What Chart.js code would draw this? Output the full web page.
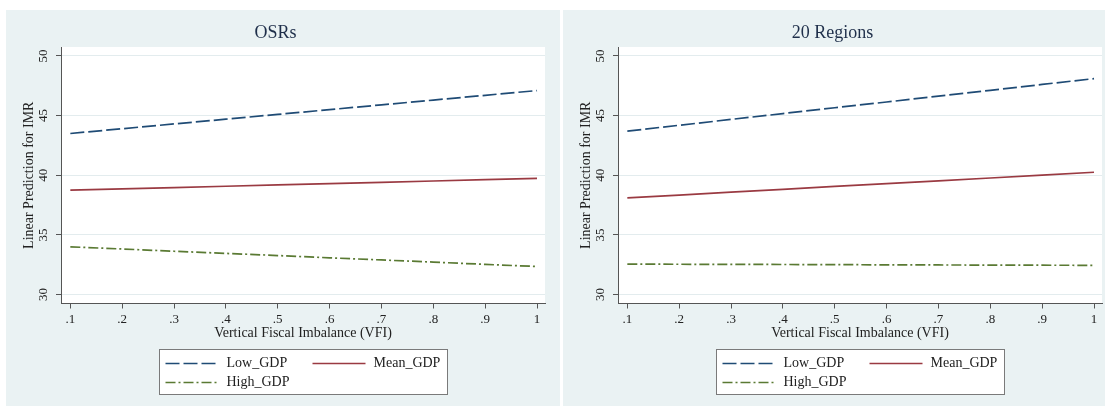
<!doctype html>
<html>

<head>
    <title>VFI margins</title>
    <script src="https://cdn.jsdelivr.net/npm/chart.js"></script>
    <style>
        body {
            margin: 0;
            background-color: white;
            width: 1105px;
            height: 406px;
            overflow: hidden;
            position: relative;
        }

        .panel {
            position: absolute;
            top: 10px;
            width: 554px;
            height: 396px;
            background-color: #eaf2f3;
        }
    </style>
</head>

<body>
    <div class="panel" style="left: 6px"><canvas id="chart-0" width="554" height="396"></canvas></div>
    <div class="panel" style="left: 563px"><canvas id="chart-1" width="554" height="396"></canvas></div>
    <script>
        const vfi = [0.1, 0.2, 0.3, 0.4, 0.5, 0.6, 0.7, 0.8, 0.9, 1]
        const xTicks = [0.1, 0.2, 0.3, 0.4, 0.5, 0.6, 0.7, 0.8, 0.9, 1]
        const xTickLabels = ['.1', '.2', '.3', '.4', '.5', '.6', '.7', '.8', '.9', '1']
        const yTicks = [30, 35, 40, 45, 50]

        const seriesNames = ['Low_GDP', 'Mean_GDP', 'High_GDP']
        const panelTitles = ['OSRs', '20 Regions']

        const osrLow = [43.5, 43.9, 44.3, 44.7, 45.1, 45.5, 45.9, 46.3, 46.7, 47.1]
        const osrMean = [38.75, 38.86, 38.97, 39.08, 39.19, 39.3, 39.41, 39.52, 39.63, 39.74]
        const osrHigh = [34.0, 33.82, 33.63, 33.45, 33.27, 33.08, 32.9, 32.72, 32.53, 32.35]

        const regLow = [43.7, 44.19, 44.68, 45.17, 45.66, 46.14, 46.63, 47.12, 47.61, 48.1]
        const regMean = [38.1, 38.34, 38.58, 38.82, 39.06, 39.29, 39.53, 39.77, 40.01, 40.25]
        const regHigh = [32.55, 32.54, 32.53, 32.52, 32.51, 32.49, 32.48, 32.47, 32.46, 32.45]

        const panels = [
            [osrLow, osrMean, osrHigh],
            [regLow, regMean, regHigh],
        ]

        const colors = ['#1f4b75', '#9a3a42', '#5a7a33']
        const dashes = [[14, 4], [], [10, 3, 2, 3]]

        Chart.defaults.font.family = "'Liberation Serif', 'Times New Roman', serif"
        Chart.defaults.color = '#222'

        // white plot region like Stata's plotregion
        const plotBackground = {
            id: 'plotBackground',
            beforeDraw(chart) {
                const { ctx, chartArea: a } = chart
                ctx.save()
                ctx.fillStyle = 'white'
                ctx.fillRect(a.left, a.top, a.right - a.left, a.bottom - a.top)
                ctx.restore()
            }
        }

        // vertical y tick labels (Stata draws them rotated)
        const yLabels = {
            id: 'yLabels',
            afterDraw(chart) {
                const { ctx } = chart
                const scale = chart.scales.y
                ctx.save()
                ctx.font = "13px 'Liberation Serif', serif"
                ctx.fillStyle = '#222'
                ctx.textAlign = 'center'
                ctx.textBaseline = 'middle'
                yTicks.forEach(v => {
                    const y = scale.getPixelForValue(v)
                    ctx.save()
                    ctx.translate(scale.right - 17, y)
                    ctx.rotate(-Math.PI / 2)
                    ctx.fillText(String(v), 0, 0)
                    ctx.restore()
                })
                ctx.restore()
            }
        }

        // boxed legend, two columns
        const boxLegend = {
            id: 'boxLegend',
            afterDraw(chart) {
                const { ctx, chartArea: a } = chart
                const w = 288, h = 45
                const left = Math.round((a.left + a.right) / 2 - w / 2) + 0.5
                const top = 339.5
                ctx.save()
                ctx.fillStyle = 'white'
                ctx.fillRect(left, top, w, h)
                ctx.strokeStyle = '#7a7a7a'
                ctx.lineWidth = 1
                ctx.strokeRect(left, top, w, h)
                ctx.font = "14px 'Liberation Serif', serif"
                ctx.textBaseline = 'middle'
                ctx.textAlign = 'left'
                chart.data.datasets.forEach((ds, i) => {
                    const col = i % 2
                    const row = Math.floor(i / 2)
                    const x = left + 6 + col * 147
                    const y = top + 14 + row * 19
                    ctx.strokeStyle = ds.borderColor
                    ctx.lineWidth = 1.5
                    ctx.setLineDash(ds.borderDash)
                    ctx.beginPath()
                    ctx.moveTo(x, y)
                    ctx.lineTo(x + 53, y)
                    ctx.stroke()
                    ctx.setLineDash([])
                    ctx.fillStyle = '#222'
                    ctx.fillText(ds.label, x + 61, y)
                })
                ctx.restore()
            }
        }

        panels.forEach((series, idx) => {
            new Chart(document.getElementById(`chart-${idx}`), {
                type: 'line',
                data: {
                    datasets: series.map((values, s) => ({
                        label: seriesNames[s],
                        data: values.map((v, k) => ({ x: vfi[k], y: v })),
                        borderColor: colors[s],
                        borderDash: dashes[s],
                        borderWidth: 1.7,
                        pointRadius: 0,
                        fill: false,
                    }))
                },
                options: {
                    responsive: false,
                    animation: false,
                    devicePixelRatio: 1,
                    layout: { padding: { left: 0, right: 15, top: 0, bottom: 64.5 } },
                    scales: {
                        x: {
                            type: 'linear',
                            min: 0.082,
                            max: 1.0154,
                            afterBuildTicks: s => { s.ticks = xTicks.map(v => ({ value: v })) },
                            afterFit: s => { s.height = 38 },
                            ticks: {
                                autoSkip: false,
                                maxRotation: 0,
                                padding: 3,
                                font: { size: 13 },
                                color: '#222',
                                callback: (v, i) => xTickLabels[i]
                            },
                            grid: {
                                drawOnChartArea: false,
                                drawTicks: true,
                                tickLength: 5,
                                tickColor: '#555'
                            },
                            border: { color: '#555', width: 1 },
                            title: {
                                display: true,
                                text: 'Vertical Fiscal Imbalance (VFI)',
                                font: { size: 14 },
                                color: '#222',
                                padding: 0
                            }
                        },
                        y: {
                            min: 29.25,
                            max: 50.75,
                            afterBuildTicks: s => { s.ticks = yTicks.map(v => ({ value: v })) },
                            afterFit: s => { s.width = 55 },
                            ticks: { display: false },
                            grid: {
                                color: '#e3ecee',
                                drawTicks: true,
                                tickLength: 5,
                                tickColor: '#555'
                            },
                            border: { color: '#555', width: 1 },
                            title: {
                                display: true,
                                text: 'Linear Prediction for IMR',
                                font: { size: 14 },
                                color: '#222',
                                padding: { top: 14.6, bottom: 0 }
                            }
                        }
                    },
                    plugins: {
                        legend: { display: false },
                        tooltip: { enabled: false },
                        title: {
                            display: true,
                            text: panelTitles[idx],
                            font: { size: 18, weight: 'normal' },
                            color: '#1f2f4a',
                            padding: { top: 12.2, bottom: 3.2 }
                        }
                    }
                },
                plugins: [plotBackground, yLabels, boxLegend]
            })
        })
    </script>
</body>

</html>
